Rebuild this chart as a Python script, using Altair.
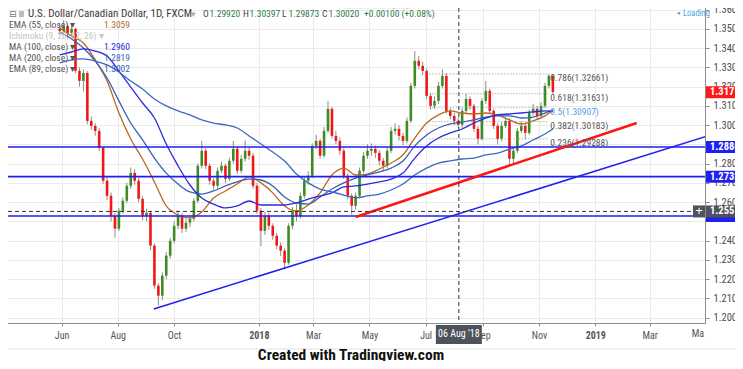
import altair as alt
import pandas as pd

# ---------------- values ----------------
closes = [1.3489, 1.3515, 1.3479, 1.3500, 1.3282, 1.3230, 1.3271, 1.3022, 1.2996, 1.2970,
          1.2882, 1.2711, 1.2633, 1.2529, 1.2462, 1.2555, 1.2607, 1.2685, 1.2752, 1.2711,
          1.2617, 1.2529, 1.2545, 1.2374, 1.2166, 1.2114, 1.2218, 1.2322, 1.2399, 1.2477,
          1.2529, 1.2462, 1.2493, 1.2514, 1.2607, 1.2789, 1.2867, 1.2789, 1.2711, 1.2685,
          1.2763, 1.2789, 1.2721, 1.2815, 1.2877, 1.2763, 1.2825, 1.2867, 1.2841, 1.2685,
          1.2555, 1.2451, 1.2529, 1.2477, 1.2425, 1.2374, 1.2348, 1.2285, 1.2477, 1.2555,
          1.2529, 1.2633, 1.2711, 1.2737, 1.2892, 1.2918, 1.2841, 1.2970, 1.3085, 1.2944,
          1.2918, 1.2867, 1.2737, 1.2633, 1.2581, 1.2633, 1.2763, 1.2841, 1.2867, 1.2877,
          1.2856, 1.2815, 1.2789, 1.2867, 1.2970, 1.2981, 1.2944, 1.2918, 1.3022, 1.3204,
          1.3334, 1.3308, 1.3282, 1.3152, 1.3100, 1.3126, 1.3204, 1.3256, 1.3074, 1.3048,
          1.3022, 1.3002, 1.3074, 1.3136, 1.3100, 1.2981, 1.2929, 1.3126, 1.3178, 1.3074,
          1.2996, 1.2929, 1.2996, 1.3022, 1.2825, 1.2867, 1.2970, 1.2996, 1.2960, 1.3064,
          1.3085, 1.3048, 1.3100, 1.3204, 1.3256, 1.3172]
highs = [1.3525, 1.3545, 1.3530, 1.3520, 1.3505, 1.3300, 1.3290, 1.3280, 1.3045, 1.3010,
         1.2985, 1.2890, 1.2730, 1.2650, 1.2545, 1.2570, 1.2625, 1.2700, 1.2780, 1.2770,
         1.2725, 1.2630, 1.2565, 1.2555, 1.2385, 1.2180, 1.2235, 1.2340, 1.2415, 1.2500,
         1.2555, 1.2545, 1.2515, 1.2535, 1.2620, 1.2800, 1.2918, 1.2880, 1.2800, 1.2725,
         1.2780, 1.2810, 1.2800, 1.2830, 1.2918, 1.2890, 1.2845, 1.2920, 1.2885, 1.2855,
         1.2700, 1.2570, 1.2550, 1.2545, 1.2490, 1.2440, 1.2390, 1.2360, 1.2490, 1.2575,
         1.2590, 1.2650, 1.2730, 1.2760, 1.2905, 1.2950, 1.2930, 1.2990, 1.3125, 1.3095,
         1.2970, 1.2935, 1.2880, 1.2750, 1.2645, 1.2650, 1.2780, 1.2860, 1.2900, 1.2905,
         1.2895, 1.2870, 1.2830, 1.2885, 1.2990, 1.3010, 1.3000, 1.2960, 1.3040, 1.3220,
         1.3385, 1.3360, 1.3330, 1.3295, 1.3165, 1.3150, 1.3225, 1.3290, 1.3270, 1.3090,
         1.3065, 1.3040, 1.3090, 1.3165, 1.3150, 1.3110, 1.2995, 1.3140, 1.3230, 1.3190,
         1.3085, 1.3010, 1.3015, 1.3040, 1.3035, 1.2885, 1.2985, 1.3020, 1.3010, 1.3080,
         1.3110, 1.3100, 1.3120, 1.3220, 1.3267, 1.3265]
lows = [1.3470, 1.3480, 1.3455, 1.3465, 1.3270, 1.3200, 1.3175, 1.3005, 1.2975, 1.2945,
        1.2865, 1.2695, 1.2610, 1.2500, 1.2415, 1.2450, 1.2540, 1.2595, 1.2670, 1.2690,
        1.2600, 1.2505, 1.2500, 1.2350, 1.2150, 1.2062, 1.2090, 1.2200, 1.2305, 1.2385,
        1.2460, 1.2440, 1.2445, 1.2470, 1.2500, 1.2595, 1.2775, 1.2770, 1.2690, 1.2665,
        1.2670, 1.2750, 1.2700, 1.2710, 1.2800, 1.2745, 1.2750, 1.2810, 1.2820, 1.2670,
        1.2540, 1.2370, 1.2430, 1.2455, 1.2405, 1.2355, 1.2320, 1.2250, 1.2275, 1.2460,
        1.2500, 1.2515, 1.2620, 1.2690, 1.2725, 1.2875, 1.2825, 1.2830, 1.2960, 1.2930,
        1.2900, 1.2845, 1.2720, 1.2615, 1.2535, 1.2560, 1.2620, 1.2750, 1.2825, 1.2840,
        1.2830, 1.2790, 1.2760, 1.2775, 1.2855, 1.2950, 1.2920, 1.2895, 1.2905, 1.3010,
        1.3190, 1.3290, 1.3260, 1.3135, 1.3080, 1.3085, 1.3110, 1.3190, 1.3060, 1.3030,
        1.3000, 1.2987, 1.2985, 1.3060, 1.3080, 1.2965, 1.2900, 1.2920, 1.3110, 1.3055,
        1.2980, 1.2900, 1.2915, 1.2985, 1.2785, 1.2800, 1.2855, 1.2960, 1.2925, 1.2950,
        1.3050, 1.3030, 1.3035, 1.3090, 1.3190, 1.3160]
first_open = 1.3500
candle_start = "2017-05-30"
candle_end = "2018-11-16"

ma_step = 3  # one reading every third candle, plus the last one
ema55 = [1.3505, 1.3463, 1.3427, 1.3339, 1.3229, 1.3063, 1.2928, 1.2824, 1.2705, 1.2580,
         1.2533, 1.2518, 1.2549, 1.2622, 1.2658, 1.2694, 1.2731, 1.2700, 1.2648, 1.2580,
         1.2554, 1.2585, 1.2648, 1.2741, 1.2777, 1.2741, 1.2746, 1.2772, 1.2803, 1.2845,
         1.2933, 1.3011, 1.3053, 1.3074, 1.3063, 1.3058, 1.3063, 1.3053, 1.3027, 1.3006,
         1.3022, 1.3048, 1.3079]
ema89 = [1.3484, 1.3448, 1.3401, 1.3333, 1.3245, 1.3126, 1.3011, 1.2923, 1.2829, 1.2751,
         1.2694, 1.2653, 1.2642, 1.2658, 1.2684, 1.2705, 1.2720, 1.2715, 1.2684, 1.2627,
         1.2596, 1.2590, 1.2627, 1.2668, 1.2700, 1.2725, 1.2741, 1.2757, 1.2777, 1.2814,
         1.2892, 1.2949, 1.2985, 1.3006, 1.3016, 1.3027, 1.3042, 1.3048, 1.3048, 1.3037,
         1.3042, 1.3063, 1.3079]
ma100 = [1.3365, 1.3380, 1.3396, 1.3385, 1.3359, 1.3281, 1.3198, 1.3115, 1.3037, 1.2902,
         1.2788, 1.2689, 1.2622, 1.2590, 1.2570, 1.2580, 1.2606, 1.2585, 1.2585, 1.2585,
         1.2596, 1.2616, 1.2632, 1.2648, 1.2679, 1.2684, 1.2694, 1.2705, 1.2720, 1.2751,
         1.2829, 1.2892, 1.2933, 1.2960, 1.2980, 1.3011, 1.3037, 1.3053, 1.3058, 1.3063,
         1.3069, 1.3074, 1.3069]
ma200 = [1.3323, 1.3339, 1.3344, 1.3333, 1.3313, 1.3276, 1.3229, 1.3188, 1.3136, 1.3100,
         1.3074, 1.3053, 1.3027, 1.3011, 1.3001, 1.2985, 1.2944, 1.2902, 1.2860, 1.2814,
         1.2746, 1.2700, 1.2668, 1.2653, 1.2637, 1.2622, 1.2632, 1.2642, 1.2663, 1.2694,
         1.2741, 1.2777, 1.2803, 1.2814, 1.2824, 1.2829, 1.2845, 1.2855, 1.2876, 1.2892,
         1.2923, 1.2954, 1.2980]

level_prices = [1.28862, 1.27325, 1.2528]
cross_price = 1.25517
cross_date = "2018-08-06"
cross_label = "06 Aug '18"
last_price = 1.31715

fib_levels = ["0.786", "0.618", "0.5", "0.382", "0.236"]
fib_prices = [1.32661, 1.31631, 1.30907, 1.30183, 1.29288]
fib_from = "2018-07-05"
fib_to = "2018-11-10"

blue_trend_dates = ["2017-09-09", "2019-05-03T05:00:00"]
blue_trend_prices = [1.2045, 1.2944]
red_trend_dates = ["2018-04-16", "2019-02-15"]
red_trend_prices = [1.2523, 1.3011]

x_ticks = ["2017-06-01", "2017-08-01", "2017-10-01", "2018-01-01", "2018-03-01", "2018-05-01",
           "2018-07-01", "2018-09-01", "2018-11-01", "2019-01-01", "2019-03-01"]
x_cut_label = "Ma"
y_ticks = [1.20, 1.21, 1.22, 1.23, 1.24, 1.25, 1.26, 1.27, 1.28, 1.29, 1.30, 1.31, 1.32,
           1.33, 1.34, 1.35, 1.36]
y_hidden = ["1.29000", "1.25000"]  # labels covered by the price tags
x_domain = ["2017-04-01T17:00:00", "2019-04-24T14:40:00"]
y_domain = [1.1972, 1.3645]

title_text = "U.S. Dollar/Canadian Dollar, 1D, FXCM"
ohlc_names = ["O", "H", "L", "C"]
ohlc_values = ["1.29920", "1.30397", "1.29873", "1.30020"]
change_text = "+0.00100 (+0.08%)"
legend_names = ["EMA (55, close) \u25be", "Ichimoku (9, 26, 52, 26) \u25be", "MA (100, close) \u25be",
                "MA (200, close) \u25be", "EMA (89, close) \u25be"]
legend_values = ["1.3059", "", "1.2960", "1.2819", "1.3002"]
footer = "Created with Tradingview.com"

# ---------------- styling ----------------
FONT = "Liberation Sans Narrow, Arial Narrow, Roboto Condensed, Roboto, sans-serif"
GREEN = "#3d8c22"
RED = "#f41616"
WICK = "#8c8c8c"
BLUE = "#1f1ff0"
C_EMA55 = "#b9691f"
C_MA100 = "#2a2ae0"
C_MA200 = "#3c68c2"
C_EMA89 = "#3560b8"
GRID = "#ebebeb"
AXC = "#8c8c8c"
DARK = "#4d525c"
GREEN_TXT = "#2e7d46"
PLOT_W = 704
PLOT_H = 322


def ms(s):
    return int(pd.Timestamp(s, tz="UTC").value // 1_000_000)


xs = alt.Scale(type="utc", domain=[ms(x_domain[0]), ms(x_domain[1])])
ys = alt.Scale(domain=y_domain, nice=False, zero=False)

hidden_test = " || ".join(f"datum.label == '{h}'" for h in y_hidden)

xaxis = alt.Axis(
    values=[ms(d) for d in x_ticks],
    labelExpr="utcmonth(datum.value) == 0 ? utcFormat(datum.value, '%Y') : utcFormat(datum.value, '%b')",
    labelFontWeight={"condition": {"test": "utcmonth(datum.value) == 0", "value": "bold"}, "value": "normal"},
    title=None, grid=True, gridColor=GRID, domainColor=AXC, tickColor=AXC, tickSize=3,
    labelPadding=4, labelFont=FONT, labelFontSize=10, labelColor="#555555",
    labelOverlap=False, labelFlush=False, labelBound=False,
)
yaxis = alt.Axis(
    orient="right", values=y_ticks, format=".5f", title=None, grid=True, gridColor=GRID,
    domainColor=AXC, tickColor=AXC, tickSize=4, labelPadding=4, labelFont=FONT,
    labelFontSize=10.5, labelColor="#4c4c4c", labelOverlap=False, labelFlush=False,
    labelExpr=f"({hidden_test}) ? '' : datum.label",
)


def X(f):
    return alt.X(f"{f}:T", scale=xs, axis=xaxis)


def Y(f):
    return alt.Y(f"{f}:Q", scale=ys, axis=yaxis)


one = pd.DataFrame({"k": [0]})


def note(text, x, y, color="#555555", size=9.5, weight="normal", align="left", font=FONT):
    return alt.Chart(one).mark_text(
        text=text, align=align, baseline="middle", color=color, fontSize=size,
        fontWeight=weight, font=font,
    ).encode(x=alt.value(x), y=alt.value(y))


def box(x1, x2, y1, y2, color):
    return alt.Chart(one).mark_rect(color=color).encode(
        x=alt.value(x1), x2=alt.value(x2), y=alt.value(y1), y2=alt.value(y2))


# ---------------- candles ----------------
n = len(closes)
stamps = pd.date_range(candle_start, candle_end, periods=n, tz="UTC")
t_ms = [int(s.value // 1_000_000) for s in stamps]
opens = [first_open] + closes[:-1]
candles = pd.DataFrame({"t": t_ms, "open": opens, "close": closes, "high": highs, "low": lows})

wicks = alt.Chart(candles).mark_rule(color=WICK, strokeWidth=1).encode(
    x=X("t"), y=Y("low"), y2=alt.Y2("high"))
bodies = alt.Chart(candles).mark_bar(size=2.6).encode(
    x=X("t"), y=Y("open"), y2=alt.Y2("close"),
    color=alt.condition("datum.close >= datum.open", alt.value(GREEN), alt.value(RED)))

# ---------------- moving averages ----------------
pos = list(range(0, n - 2, ma_step)) + [n - 1]
ma_names = ["EMA 55", "EMA 89", "MA 100", "MA 200"]
ma_colors = [C_EMA55, C_EMA89, C_MA100, C_MA200]
rows = []
for name, vals in zip(ma_names, [ema55, ema89, ma100, ma200]):
    for p, v in zip(pos, vals):
        rows.append({"t": t_ms[p], "v": v, "s": name})
ma_df = pd.DataFrame(rows)
ma_lines = alt.Chart(ma_df).mark_line(strokeWidth=1.3, interpolate="monotone").encode(
    x=X("t"), y=Y("v"), detail="s:N",
    color=alt.Color("s:N", scale=alt.Scale(domain=ma_names, range=ma_colors), legend=None))

# ---------------- horizontal levels, trend lines, crosshair ----------------
lv_df = pd.DataFrame({"p": level_prices})
levels = alt.Chart(lv_df).mark_rule(color=BLUE, strokeWidth=1.6).encode(y=Y("p"))

blue_df = pd.DataFrame({"t": [ms(d) for d in blue_trend_dates], "p": blue_trend_prices})
blue_trend = alt.Chart(blue_df).mark_line(color=BLUE, strokeWidth=1.5, clip=True).encode(
    x=X("t"), y=Y("p"))
red_df = pd.DataFrame({"t": [ms(d) for d in red_trend_dates], "p": red_trend_prices})
red_trend = alt.Chart(red_df).mark_line(color="#ff1414", strokeWidth=2.5, clip=True).encode(
    x=X("t"), y=Y("p"))

cross_df = pd.DataFrame({"t": [ms(cross_date)], "p": [cross_price], "txt": [cross_label]})
cross_h = alt.Chart(cross_df).mark_rule(color="#333333", strokeDash=[4, 3], strokeWidth=1).encode(
    y=Y("p"))
cross_v = alt.Chart(cross_df).mark_rule(color="#333333", strokeDash=[4, 3], strokeWidth=1).encode(
    x=X("t"))

# ---------------- fibonacci ----------------
fib_df = pd.DataFrame({
    "t0": [ms(fib_from)] * len(fib_levels),
    "t1": [ms(fib_to)] * len(fib_levels),
    "p": fib_prices,
    "lvl": fib_levels,
    "txt": [f"{l}({p:.5f})" for l, p in zip(fib_levels, fib_prices)],
})
fib_is_half = "datum.lvl == '0.5'"
fib_rules = alt.Chart(fib_df).mark_rule(strokeDash=[1, 2], strokeWidth=1).encode(
    x=X("t0"), x2=alt.X2("t1"), y=Y("p"),
    color=alt.condition(fib_is_half, alt.value("#6fa8e8"), alt.value("#8f8f8f")))
fib_text = alt.Chart(fib_df).mark_text(align="left", baseline="middle", dx=3, dy=4,
                                       font=FONT, fontSize=9.5).encode(
    x=X("t1"), y=Y("p"), text="txt:N",
    color=alt.condition(fib_is_half, alt.value("#5b9be0"), alt.value("#555555")))


# ---------------- price-axis tags ----------------
def tag(price, fill, show_text=True):
    d = pd.DataFrame({"p": [price], "txt": [f"{price:.5f}"]})
    out = [alt.Chart(d).mark_rule(color=fill, strokeWidth=12, strokeCap="butt").encode(
        x=alt.value(PLOT_W + 1), x2=alt.value(750), y=Y("p"))]
    if show_text:
        out.append(alt.Chart(d).mark_text(align="left", baseline="middle", color="white", font=FONT,
                                          fontSize=10.5, fontWeight="bold").encode(
            x=alt.value(PLOT_W + 5), y=Y("p"), text="txt:N"))
    return out


tags = []
tags += tag(level_prices[2], BLUE, show_text=False)
tags += tag(level_prices[1], BLUE)
tags += tag(level_prices[0], BLUE)
tags += tag(last_price, "#ff1a1a")
tags += tag(cross_price, DARK)
plus_box = alt.Chart(cross_df).mark_rule(color=DARK, strokeWidth=12, strokeCap="butt").encode(
    x=alt.value(PLOT_W - 12), x2=alt.value(PLOT_W), y=Y("p"))
plus_txt = alt.Chart(cross_df).mark_text(text="+", color="white", fontSize=13, baseline="middle").encode(
    x=alt.value(PLOT_W - 6), y=Y("p"))

date_box = alt.Chart(cross_df).mark_bar(size=46, color=DARK).encode(
    x=X("t"), y=alt.value(324), y2=alt.value(343))
date_txt = alt.Chart(cross_df).mark_text(color="white", font=FONT, fontSize=10, baseline="middle").encode(
    x=X("t"), y=alt.value(333), text="txt:N")

# ---------------- overlay texts ----------------
overlay = [
    box(PLOT_W + 1, 780, 326, 345, "white"),   # right extent of the drawing
    box(0, 10, 362, 365, "white"),             # bottom extent
    box(0, 780, 347.5, 348.5, "#e2e2e2"),
    note(x_cut_label, PLOT_W - 1, 333, color="#555555", size=10, align="right"),
    box(343, 410, 0, 8, "#eeeeee"),
    note("Exit Full Screen (ESC)", 376, 4.5, color="#9a9a9a", size=7.5, align="center"),
    note("\u25cf", 676, 12, color="#49a3e6", size=6),
    note("Loading", 682, 12, color="#49a3e6", size=8.5),
    note("\u229f", 8, 13, color="#777777", size=9, font="DejaVu Sans"),
    box(18, 23, 10, 16, "#bdbdbd"),
    note(title_text, 27, 13, color="#3b3b3b", size=11),
    note("\u25be", 190, 13, color="#aaaaaa", size=9),
    note(change_text, 363, 13, color=GREEN_TXT, size=9.5),
    note(footer, 350, 354, color="#111111", size=15.5, weight="bold", align="center"),
]
ohlc_x = [202, 242, 281, 321]
for name, val, x in zip(ohlc_names, ohlc_values, ohlc_x):
    overlay.append(note(name, x, 13, color="#444444", size=9.5))
    overlay.append(note(val, x + 6.5, 13, color=GREEN_TXT, size=9.5))
leg_y = [24, 35, 46, 57, 68]
leg_colors = ["#555555", "#c4c4c4", "#555555", "#555555", "#555555"]
val_colors = [C_EMA55, "#c4c4c4", C_MA100, C_MA200, C_EMA89]
for name, val, y, c1, c2 in zip(legend_names, legend_values, leg_y, leg_colors, val_colors):
    overlay.append(note(name, 8, y, color=c1, size=9.5))
    if val:
        overlay.append(note(val, 103, y, color=c2, size=9.5))

chart = alt.layer(
    wicks, bodies, ma_lines, levels, blue_trend, red_trend, cross_h, cross_v,
    fib_rules, fib_text, *tags, plus_box, plus_txt, date_box, date_txt, *overlay,
).properties(
    width=PLOT_W, height=PLOT_H,
    padding={"left": -8, "top": -8, "right": -46, "bottom": -5},
).configure_view(stroke=None).configure(background="white")

chart.save("out.html", embed_options={"renderer": "svg", "actions": False})
